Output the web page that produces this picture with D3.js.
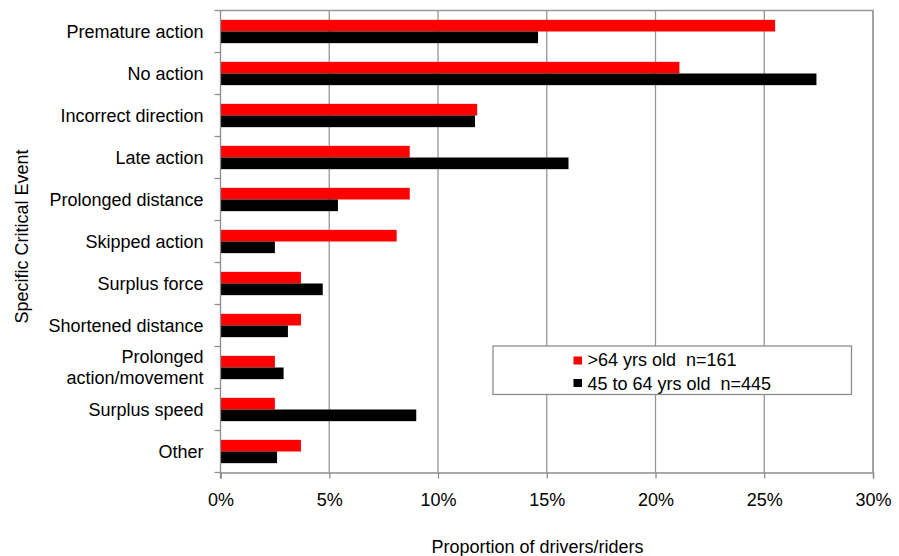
<!DOCTYPE html>
<html>
<head>
<meta charset="utf-8">
<script src="https://cdn.jsdelivr.net/npm/d3@7"></script>
<style>
  html, body { margin: 0; padding: 0; background: #fff; }
  svg { display: block; }
  text { font-family: "Liberation Sans", Arial, sans-serif; fill: #000; white-space: pre; }
</style>
</head>
<body>
<svg id="chart" width="899" height="556"></svg>
<script>
const categories = ["Premature action", "No action", "Incorrect direction", "Late action",
  "Prolonged distance", "Skipped action", "Surplus force", "Shortened distance",
  "Prolonged\naction/movement", "Surplus speed", "Other"];
const seriesNames = [">64 yrs old  n=161", "45 to 64 yrs old  n=445"];
const olderValues = [25.5, 21.1, 11.8, 8.7, 8.7, 8.1, 3.7, 3.7, 2.5, 2.5, 3.7];
const middleValues = [14.6, 27.4, 11.7, 16.0, 5.4, 2.5, 4.7, 3.1, 2.9, 9.0, 2.6];
const xTicks = [0, 5, 10, 15, 20, 25, 30];
const colors = ["#ff0000", "#000000"];
const xTitle = "Proportion of drivers/riders";
const yTitle = "Specific Critical Event";

const FS = 18;
const svg = d3.select("#chart");
const m = { left: 220.5, right: 899 - 873, top: 10.5, bottom: 556 - 472.5 };
const W = 899 - m.left - m.right, H = 556 - m.top - m.bottom;
const g = svg.append("g").attr("transform", `translate(${m.left},${m.top})`);

const x = d3.scaleLinear().domain([0, 30]).range([0, W]);
const y = d3.scaleBand().domain(categories).range([0, H]).paddingInner(0.445).paddingOuter(0.2225);
const ySub = d3.scaleBand().domain([0, 1]).range([0, y.bandwidth()]);

// gridlines
g.append("g").selectAll("line").data(xTicks.slice(1)).join("line")
  .attr("x1", d => x(d)).attr("x2", d => x(d)).attr("y1", 0).attr("y2", H)
  .attr("stroke", "#969696").attr("stroke-width", 1.3);
// plot border top & right
g.append("path").attr("d", `M0,0H${W}V${H}`).attr("fill", "none")
  .attr("stroke", "#969696").attr("stroke-width", 1.3);

// bars
const series = [olderValues, middleValues];
series.forEach((vals, si) => {
  g.append("g").selectAll("rect").data(categories).join("rect")
    .attr("x", 0)
    .attr("y", (d) => y(d) + ySub(si))
    .attr("width", (d, i) => x(vals[i]))
    .attr("height", ySub.bandwidth())
    .attr("fill", colors[si]);
});

// x axis
const xAxis = g.append("g").attr("transform", `translate(0,${H})`)
  .call(d3.axisBottom(x).tickValues(xTicks).tickFormat(d => d + "%").tickSize(6).tickPadding(15));
xAxis.select(".domain").attr("stroke", "#8c8c8c").attr("stroke-width", 1.3);
xAxis.selectAll(".tick line").attr("stroke", "#8c8c8c").attr("stroke-width", 1.3);
xAxis.selectAll("text").attr("font-size", FS).attr("fill", "#000")
  .style("font-family", '"Liberation Sans", Arial, sans-serif');

// y axis: line + ticks at band boundaries
g.append("line").attr("x1", 0).attr("x2", 0).attr("y1", 0).attr("y2", H + 6)
  .attr("stroke", "#8c8c8c").attr("stroke-width", 1.3);
const step = y.step();
const boundaries = d3.range(categories.length + 1).map(i => i * step);
g.append("g").selectAll("line").data(boundaries).join("line")
  .attr("x1", -6).attr("x2", 0).attr("y1", d => d).attr("y2", d => d)
  .attr("stroke", "#8c8c8c").attr("stroke-width", 1.3);

// category labels
const labels = g.append("g").selectAll("text").data(categories).join("text")
  .attr("text-anchor", "end").attr("font-size", FS)
  .attr("transform", d => `translate(-17,${y(d) + y.bandwidth() / 2})`);
labels.each(function(d) {
  const lines = d.split("\n");
  const t = d3.select(this);
  lines.forEach((ln, i) => {
    t.append("tspan").attr("x", 0)
      .attr("y", (i - (lines.length - 1) / 2) * 21)
      .attr("dy", "0.35em").text(ln);
  });
});

// axis titles
svg.append("text").attr("x", 537.5).attr("y", 553).attr("text-anchor", "middle")
  .attr("font-size", FS).text(xTitle);
svg.append("text").attr("transform", `translate(28,236.5) rotate(-90)`)
  .attr("text-anchor", "middle").attr("font-size", FS).text(yTitle);

// legend
const lg = svg.append("g");
lg.append("rect").attr("x", 493).attr("y", 346).attr("width", 358.5).attr("height", 48.5)
  .attr("fill", "#fff").attr("stroke", "#8c8c8c").attr("stroke-width", 1.3);
seriesNames.forEach((nm, i) => {
  lg.append("rect").attr("x", 573.5).attr("y", 356.5 + i * 22.5).attr("width", 8.5).attr("height", 8)
    .attr("fill", colors[i]);
  lg.append("text").attr("x", 587.5).attr("y", 366 + i * 23.5).attr("font-size", FS).text(nm);
});
</script>
</body>
</html>
